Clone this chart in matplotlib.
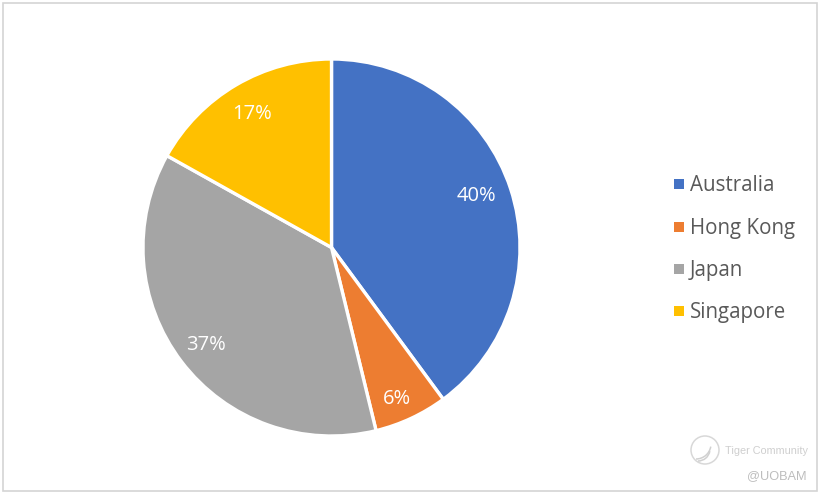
import matplotlib
matplotlib.use('Agg')
import matplotlib.pyplot as plt
from matplotlib.patches import Rectangle, Circle, Arc

categories = ['Australia', 'Hong Kong', 'Japan', 'Singapore']
shares = [39.9, 6.3, 36.9, 16.9]
labels = ['40%', '6%', '37%', '17%']
colors = ['#4472C4', '#ED7D31', '#A5A5A5', '#FFC000']

W, H = 823, 495
plt.rcParams['font.family'] = ['Open Sans', 'DejaVu Sans']

fig = plt.figure(figsize=(W / 100, H / 100), dpi=100)
bg = fig.add_axes([0, 0, 1, 1])
bg.set_xlim(0, W)
bg.set_ylim(H, 0)
bg.axis('off')
bg.add_patch(Rectangle((3, 3), 814, 488, fill=False, ec='#D4D4D4', lw=1.2))

# pie centre about (331.5, 247.5), radius 188
r = 188.5
ax = fig.add_axes([(331.5 - r) / W, 1 - (247.5 + r) / H, 2 * r / W, 2 * r / H])
wedges, texts = ax.pie(shares, colors=colors, startangle=90, counterclock=False,
                       radius=1.0, wedgeprops={'edgecolor': 'white', 'linewidth': 2.4})
ax.set_xlim(-1, 1)
ax.set_ylim(-1, 1)

label_pos = [(476, 196), (397, 399), (206, 345), (252, 114)]
for (x, y), s in zip(label_pos, labels):
    bg.text(x, y, s, color='white', fontsize=14.5, ha='center', va='center', zorder=5)
bg.set_zorder(3)
bg.patch.set_alpha(0)

legend_y = [184, 227, 269, 311]
for name, c, y in zip(categories, colors, legend_y):
    bg.add_patch(Rectangle((674, y - 5), 10, 10, color=c, lw=0))
    bg.text(690, y + 1.5, name, color='#595959', fontsize=14.8, ha='left', va='center')

# watermark
bg.add_patch(Circle((705, 450), 14, fill=False, ec='#D8D8D8', lw=1.1))
bg.add_patch(Arc((696, 444), 30, 30, theta1=10, theta2=90, ec='#D0D0D0', lw=1.1))
bg.add_patch(Arc((698, 449), 24, 24, theta1=10, theta2=90, ec='#D0D0D0', lw=1.1))
bg.text(725, 450.5, 'Tiger Community', color='#CFCFCF', fontsize=7.8, ha='left', va='center',
        family=['Liberation Sans', 'DejaVu Sans'])
bg.text(807, 476, '@UOBAM', color='#BDBDBD', fontsize=9.2, ha='right', va='center',
        family=['Liberation Sans', 'DejaVu Sans'])

fig.savefig('out.png', dpi=100)
